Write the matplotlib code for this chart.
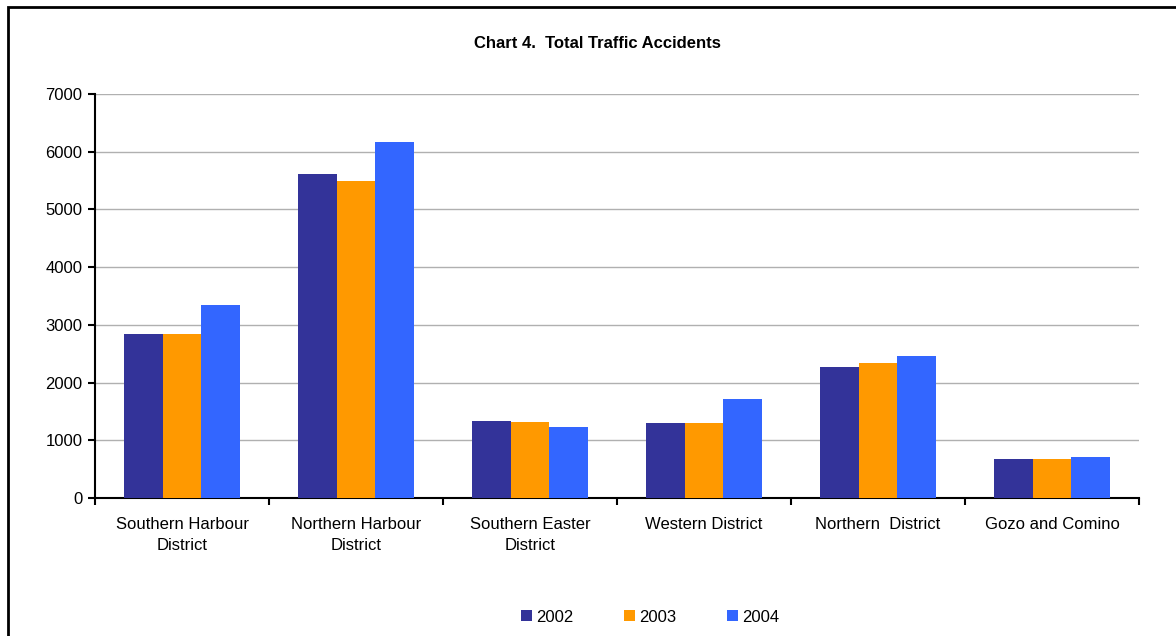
import numpy as np
import matplotlib.pyplot as plt
from matplotlib.patches import Rectangle

plt.rcParams['font.family'] = ['Liberation Sans', 'DejaVu Sans']

# Data
districts = ['Southern Harbour\nDistrict', 'Northern Harbour\nDistrict',
             'Southern Easter\nDistrict', 'Western District',
             'Northern  District', 'Gozo and Comino']
years = ['2002', '2003', '2004']
acc_2002 = [2847, 5620, 1339, 1304, 2265, 673]
acc_2003 = [2847, 5499, 1321, 1304, 2335, 673]
acc_2004 = [3350, 6175, 1233, 1707, 2458, 708]
colors = ['#333399', '#FF9900', '#3366FF']

fig = plt.figure(figsize=(11.76, 6.36), dpi=100)
ax = fig.add_axes([95/1176, 1 - 498/636, (1139 - 95)/1176, (498 - 94)/636])

x = np.arange(len(districts))
w = 1 / 4.5
for i, (vals, lab) in enumerate(zip([acc_2002, acc_2003, acc_2004], years)):
    ax.bar(x + (i - 1) * w, vals, width=w, color=colors[i], label=lab, zorder=3)

ax.set_xlim(-0.5, len(districts) - 0.5)
ax.set_ylim(0, 7000)
ax.set_yticks(range(0, 7001, 1000))
ax.yaxis.grid(True, color='#b0b0b0', linewidth=1, zorder=0)

# category labels sit between the boundary ticks
ax.set_xticks(np.arange(-0.5, len(districts)), minor=False)
ax.set_xticklabels([])
ax.set_xticks(x, minor=True)
ax.set_xticklabels(districts, minor=True, fontsize=12, linespacing=1.45)
ax.tick_params(axis='x', which='minor', length=0, pad=14)
ax.tick_params(axis='x', which='major', length=5, width=1.5, direction='out')
ax.tick_params(axis='y', length=5, width=1.5, direction='out', labelsize=12, pad=4)

for s in ['top', 'right']:
    ax.spines[s].set_visible(False)
ax.spines['left'].set_linewidth(1.5)
ax.spines['bottom'].set_linewidth(1.5)

fig.text(597/1176, 1 - 43/636, 'Chart 4.  Total Traffic Accidents',
         ha='center', va='center', fontsize=12, fontweight='bold')

fig.legend(loc='center', bbox_to_anchor=(650/1176, 1 - 617/636), ncol=3,
           frameon=False, fontsize=12, handlelength=0.66, handleheight=0.66,
           handletextpad=0.25, columnspacing=3.05)

# outer chart frame (runs off the right and bottom edge)
fig.patches.append(Rectangle((7.5/1176, -0.05), 1.2, 1 - 6.5/636 + 0.05,
                             transform=fig.transFigure, fill=False,
                             edgecolor='black', linewidth=2))

fig.savefig('out.png', dpi=100)
